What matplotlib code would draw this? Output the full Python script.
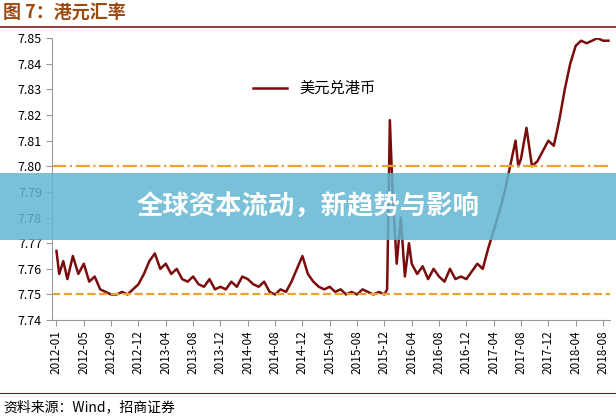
import matplotlib.pyplot as plt
import numpy as np

plt.rcParams["font.family"] = ["Noto Sans CJK SC", "DejaVu Sans"]

tick_labels = ["2012-01", "2012-05", "2012-09", "2012-12", "2013-04", "2013-08", "2013-12",
               "2014-04", "2014-08", "2014-12", "2015-04", "2015-08", "2015-12", "2016-04",
               "2016-08", "2016-12", "2017-04", "2017-08", "2017-12", "2018-04", "2018-08"]

# positions in tick-index units
pos = [0.0, 0.1, 0.25, 0.4, 0.6, 0.8, 1.0, 1.2, 1.4, 1.6, 1.8, 2.0, 2.2, 2.4, 2.6, 2.8,
       3.0, 3.2, 3.4, 3.6, 3.8, 4.0, 4.2, 4.4, 4.6, 4.8, 5.0, 5.2, 5.4, 5.6, 5.8,
       6.0, 6.2, 6.4, 6.6, 6.8, 7.0, 7.2, 7.4, 7.6, 7.8, 8.0, 8.2, 8.4, 8.6, 8.8,
       9.0, 9.2, 9.4, 9.6, 9.8, 10.0, 10.2, 10.4, 10.6, 10.8, 11.0, 11.2, 11.4, 11.6,
       11.8, 12.0, 12.1, 12.15, 12.2, 12.3, 12.45, 12.6, 12.75, 12.9, 13.0, 13.2, 13.4,
       13.6, 13.8, 14.0, 14.2, 14.4, 14.6, 14.8, 15.0, 15.2, 15.4, 15.6, 15.8, 16.0,
       16.2, 16.4, 16.6, 16.8, 16.9, 17.0, 17.2, 17.4, 17.6, 17.8, 18.0, 18.2, 18.4,
       18.6, 18.8, 19.0, 19.2, 19.4, 19.6, 19.8, 20.0, 20.2]
rate = [7.767, 7.758, 7.763, 7.756, 7.765, 7.758, 7.762, 7.755, 7.757, 7.752, 7.751, 7.750,
        7.750, 7.751, 7.750, 7.752, 7.754, 7.758, 7.763, 7.766, 7.760, 7.762, 7.758, 7.760,
        7.756, 7.755, 7.757, 7.754, 7.753, 7.756, 7.752, 7.753, 7.752, 7.755, 7.753, 7.757,
        7.756, 7.754, 7.753, 7.755, 7.751, 7.750, 7.752, 7.751, 7.755, 7.760, 7.765, 7.758,
        7.755, 7.753, 7.752, 7.753, 7.751, 7.752, 7.750, 7.751, 7.750, 7.752, 7.751, 7.750,
        7.751, 7.750, 7.752, 7.785, 7.818, 7.790, 7.762, 7.780, 7.757, 7.770, 7.762, 7.758,
        7.761, 7.756, 7.760, 7.757, 7.755, 7.760, 7.756, 7.757, 7.756, 7.759, 7.762, 7.760,
        7.768, 7.775, 7.782, 7.790, 7.800, 7.810, 7.800, 7.803, 7.815, 7.800, 7.802, 7.806,
        7.810, 7.808, 7.818, 7.830, 7.840, 7.847, 7.849, 7.848, 7.849, 7.850, 7.849, 7.849]

fig = plt.figure(figsize=(6.16, 4.19), dpi=100)
ax = fig.add_axes([0.085, 0.236, 0.905, 0.673])

ax.plot(pos, rate, color="#7b0c0c", lw=1.8, label="美元兑港币")
ax.axhline(7.80, color="#f0a030", lw=1.6, ls="-.")
ax.axhline(7.75, color="#f0a030", lw=1.6, ls="--")

ax.set_xlim(-0.15, 20.25)
ax.set_ylim(7.74, 7.85)
ax.set_yticks(np.arange(7.74, 7.851, 0.01))
ax.set_yticklabels([f"{v:.2f}" for v in np.arange(7.74, 7.851, 0.01)], fontsize=9)
ax.set_xticks(range(len(tick_labels)))
ax.set_xticklabels(tick_labels, rotation=90, fontsize=8.5)
ax.tick_params(direction="out", length=4, color="#999999")
for s in ["top", "right"]:
    ax.spines[s].set_visible(False)
for s in ["left", "bottom"]:
    ax.spines[s].set_color("#999999")
ax.legend(loc="upper center", bbox_to_anchor=(0.47, 0.9), frameon=False, fontsize=11,
          handlelength=2.2)

fig.text(0.005, 0.972, "图 7：港元汇率", color="#9c4a10", fontsize=13, fontweight="bold", va="center")
fig.add_artist(plt.Line2D([0, 1], [0.935, 0.935], color="#7b1c1c", lw=1.2))
fig.add_artist(plt.Line2D([0, 1], [0.062, 0.062], color="#7b1c1c", lw=0.8))
fig.text(0.005, 0.027, "资料来源：Wind，招商证券", fontsize=10, va="center")

fig.add_artist(plt.Rectangle((0, 0.428), 1, 0.158, transform=fig.transFigure,
                             color="#62b6d2", alpha=0.85, lw=0))
fig.text(0.5, 0.505, "全球资本流动，新趋势与影响", color="white", fontsize=19,
         fontweight="bold", ha="center", va="center")

fig.savefig("out.png", dpi=100)
